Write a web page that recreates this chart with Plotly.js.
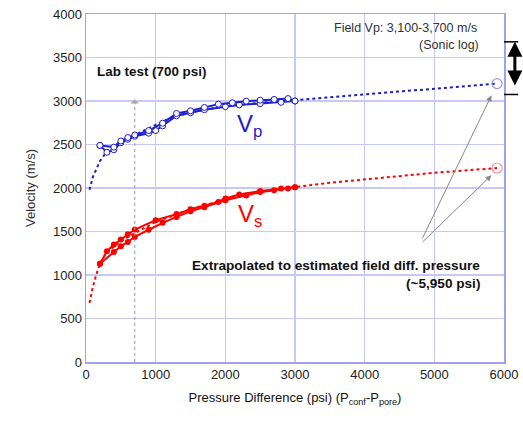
<!DOCTYPE html>
<html><head><meta charset="utf-8">
<script src="https://cdn.plot.ly/plotly-3.0.1.min.js"></script>
<style>html,body{margin:0;padding:0;background:#fff}#chart{width:523px;height:425px}</style>
</head><body><div id="chart"></div>
<script>
// Vp lab data (open circles): loading and unloading branches
const vpLoadP = [200, 300, 400, 500, 600, 700, 900, 1000, 1100, 1300, 1500, 1700, 2000, 2200, 2500, 2800, 3000];
const vpLoadV = [2490, 2410, 2440, 2520, 2560, 2595, 2630, 2660, 2715, 2830, 2865, 2900, 2935, 2955, 2970, 2985, 3000];
const vpUnloadP = [3000, 2900, 2700, 2500, 2300, 2100, 1900, 1700, 1500, 1300, 1100, 900, 700, 600, 500, 400, 200];
const vpUnloadV = [3000, 3028, 3018, 3010, 2998, 2980, 2964, 2926, 2887, 2857, 2745, 2660, 2610, 2580, 2540, 2470, 2490];
// Vs lab data (filled circles)
const vsLoadP = [200, 400, 500, 600, 700, 900, 1100, 1300, 1500, 1700, 2000, 2300, 2500, 2700, 2900, 3000];
const vsLoadV = [1130, 1265, 1330, 1380, 1438, 1520, 1600, 1668, 1733, 1780, 1860, 1915, 1955, 1975, 1995, 2010];
const vsUnloadP = [3000, 2800, 2500, 2200, 2000, 1900, 1700, 1500, 1300, 1000, 700, 600, 500, 400, 300, 200];
const vsUnloadV = [2010, 1995, 1965, 1925, 1880, 1840, 1795, 1755, 1700, 1630, 1523, 1469, 1408, 1350, 1273, 1130];
// Fitted / extrapolated trends (dotted)
const vpFitP = [50, 100, 200, 300, 500, 700, 900, 1100, 1300, 1600, 2000, 2500, 3000, 3500, 4000, 4500, 5000, 5500, 5900];
const vpFitV = [1980, 2130, 2310, 2420, 2530, 2610, 2690, 2765, 2830, 2885, 2940, 2980, 3010, 3045, 3080, 3110, 3140, 3172, 3200];
const vsFitP = [50, 100, 150, 200, 300, 500, 700, 1000, 1500, 2000, 2500, 3000, 3500, 4000, 4500, 5000, 5500, 5900];
const vsFitV = [680, 870, 1010, 1130, 1265, 1390, 1480, 1610, 1755, 1870, 1950, 2010, 2060, 2100, 2140, 2175, 2205, 2230];
// Extrapolated field-pressure points
const fieldP = [5900];
const fieldVp = [3200];
const fieldVs = [2230];
const labTestP = 700;

const BLUE = 'rgb(30,30,205)';
const RED = 'rgb(255,0,0)';
const traces = [
  {x: vpFitP, y: vpFitV, mode: 'lines', line: {color: BLUE, width: 2, dash: 'dot'}},
  {x: vsFitP, y: vsFitV, mode: 'lines', line: {color: RED, width: 2, dash: 'dot'}},
  {x: vpLoadP, y: vpLoadV, mode: 'lines+markers', line: {color: BLUE, width: 2},
   marker: {symbol: 'circle', size: 6, color: 'white', line: {color: BLUE, width: 1}}},
  {x: vpUnloadP, y: vpUnloadV, mode: 'lines+markers', line: {color: BLUE, width: 2},
   marker: {symbol: 'circle', size: 6, color: 'white', line: {color: BLUE, width: 1}}},
  {x: vsLoadP, y: vsLoadV, mode: 'lines+markers', line: {color: RED, width: 2},
   marker: {symbol: 'circle', size: 6, color: RED}},
  {x: vsUnloadP, y: vsUnloadV, mode: 'lines+markers', line: {color: RED, width: 2},
   marker: {symbol: 'circle', size: 6, color: RED}},
  {x: fieldP, y: fieldVp, mode: 'markers', marker: {symbol: 'circle-open', size: 10, color: 'rgb(150,150,235)', line: {width: 1.2}}},
  {x: fieldP, y: fieldVs, mode: 'markers', marker: {symbol: 'circle-open', size: 10, color: 'rgb(255,150,150)', line: {width: 1.2}}}
];

const FONT = 'Liberation Sans, Arial, sans-serif';
const layout = {
  width: 523, height: 425,
  margin: {l: 86, r: 19, t: 14, b: 63},
  paper_bgcolor: 'white', plot_bgcolor: 'white',
  showlegend: false,
  font: {family: FONT, size: 13, color: '#222'},
  xaxis: {range: [0, 6000], dtick: 1000, tickformat: 'd', showgrid: true, gridcolor: 'rgb(200,200,245)', gridwidth: 1.5,
    zeroline: false, showline: true, linecolor: 'rgb(160,160,235)', linewidth: 1.5, mirror: true, ticks: '',
    tickfont: {size: 13, color: '#222'},
    title: {text: 'Pressure Difference (psi) (P<sub>conf</sub>-P<sub>pore</sub>)', font: {size: 13, color: '#111'}, standoff: 12}},
  yaxis: {range: [0, 4000], dtick: 500, tickformat: 'd', showgrid: true, gridcolor: 'rgb(200,200,245)', gridwidth: 1.5,
    zeroline: false, showline: true, linecolor: 'rgb(160,160,235)', linewidth: 1.5, mirror: true, ticks: '',
    tickfont: {size: 13, color: '#222'},
    title: {text: 'Velocity (m/s)', font: {size: 13, color: '#333'}, standoff: 14}},
  shapes: [
    {type: 'line', xref: 'x', yref: 'y', x0: labTestP, x1: labTestP, y0: 0, y1: 2980, line: {color: '#999', width: 1, dash: 'dot'}},
    {type: 'line', xref: 'paper', yref: 'y', x0: 1.0, x1: 1.034, y0: 3680, y1: 3680, line: {color: 'black', width: 1.5}},
    {type: 'line', xref: 'paper', yref: 'y', x0: 1.0, x1: 1.034, y0: 3075, y1: 3075, line: {color: 'black', width: 1.5}}
  ],
  annotations: [
    {xref: 'x', yref: 'y', x: labTestP, y: 3020, axref: 'pixel', ayref: 'pixel', ax: 0, ay: 14, showarrow: true,
     arrowhead: 1, arrowsize: 1.4, arrowwidth: 1, arrowcolor: '#aaa', text: ' '},
    {xref: 'paper', yref: 'y', x: 1.026, y: 3680, axref: 'pixel', ayref: 'y', ax: 0, ay: 3075, showarrow: true,
     arrowside: 'start+end', arrowhead: 2, arrowsize: 1, arrowwidth: 3, arrowcolor: 'black', text: ' '},
    {xref: 'x', yref: 'y', x: 5820, y: 3065, axref: 'x', ayref: 'y', ax: 4780, ay: 1340, showarrow: true,
     arrowhead: 2, arrowsize: 1.2, arrowwidth: 1, arrowcolor: '#888', text: ' '},
    {xref: 'x', yref: 'y', x: 5820, y: 2147, axref: 'x', ayref: 'y', ax: 4780, ay: 1340, showarrow: true,
     arrowhead: 2, arrowsize: 1.2, arrowwidth: 1, arrowcolor: '#888', text: ' '},
    {xref: 'paper', yref: 'paper', x: 0.94, y: 0.96, xanchor: 'right', yanchor: 'middle', showarrow: false,
     text: 'Field Vp: 3,100-3,700 m/s', font: {size: 12.5, color: '#333'}},
    {xref: 'paper', yref: 'paper', x: 0.945, y: 0.911, xanchor: 'right', yanchor: 'middle', showarrow: false,
     text: '(Sonic log)', font: {size: 12.5, color: '#333'}},
    {xref: 'paper', yref: 'paper', x: 0.022, y: 0.836, xanchor: 'left', yanchor: 'middle', showarrow: false,
     text: '<b>Lab test (700 psi)</b>', font: {size: 13.4, color: '#111'}},
    {xref: 'paper', yref: 'paper', x: 0.357, y: 0.68, xanchor: 'left', yanchor: 'middle', showarrow: false,
     text: 'V<sub>p</sub>', font: {size: 24, color: BLUE}},
    {xref: 'paper', yref: 'paper', x: 0.36, y: 0.42, xanchor: 'left', yanchor: 'middle', showarrow: false,
     text: 'V<sub>s</sub>', font: {size: 24, color: RED}},
    {xref: 'paper', yref: 'paper', x: 0.948, y: 0.277, xanchor: 'right', yanchor: 'middle', showarrow: false,
     text: '<b>Extrapolated to estimated field diff. pressure</b>', font: {size: 13.6, color: '#111'}},
    {xref: 'paper', yref: 'paper', x: 0.948, y: 0.225, xanchor: 'right', yanchor: 'middle', showarrow: false,
     text: '<b>(~5,950 psi)</b>', font: {size: 13.6, color: '#111'}}
  ]
};
Plotly.newPlot('chart', traces, layout, {displayModeBar: false, staticPlot: true});
</script></body></html>
